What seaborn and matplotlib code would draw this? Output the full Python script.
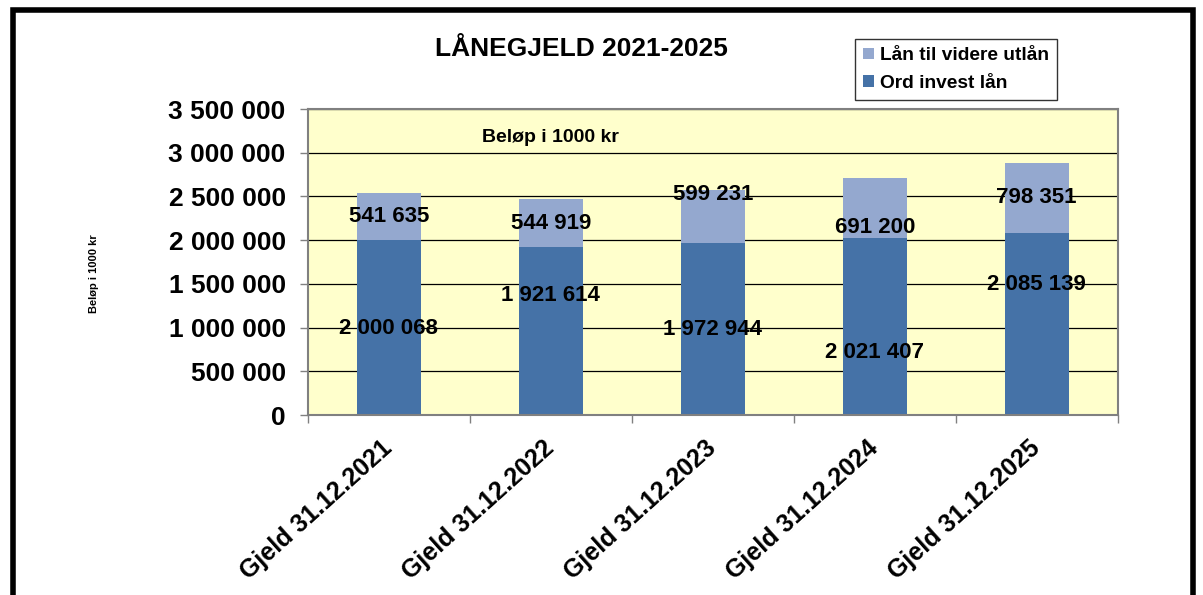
import numpy as np
import pandas as pd
import matplotlib
matplotlib.use("Agg")
import matplotlib.pyplot as plt
import matplotlib.ticker as mticker
import matplotlib.transforms as mtrans
from matplotlib.patches import Rectangle
import seaborn as sns

# ---------------- data ----------------
kategorier = ["Gjeld 31.12.2021", "Gjeld 31.12.2022", "Gjeld 31.12.2023",
              "Gjeld 31.12.2024", "Gjeld 31.12.2025"]
ord_invest = [2000068, 1921614, 1972944, 2021407, 2085139]
videre_utlan = [541635, 544919, 599231, 691200, 798351]
# where the data labels sit (value units)
etikett_y_ord = [985000, 1370000, 975000, 710000, 1490000]
etikett_y_vid = [2265000, 2185000, 2525000, 2140000, 2485000]

fmt = lambda v: f"{int(v):,}".replace(",", " ")

sns.set_theme(style="white")
plt.rcParams["font.family"] = ["Liberation Sans", "DejaVu Sans"]
plt.rcParams["font.weight"] = "bold"
plt.rcParams["text.color"] = "black"
plt.rcParams["xtick.color"] = "black"
plt.rcParams["ytick.color"] = "black"

df = pd.DataFrame({"kat": kategorier,
                   "ord": ord_invest,
                   "tot": np.array(ord_invest) + np.array(videre_utlan)})

fig = plt.figure(figsize=(12.03, 5.95), dpi=100)
ax = fig.add_axes([0.256, 0.3025, 0.673, 0.5143])
ax.set_facecolor("#FFFFCC")

lys = "#94A8CF"
mork = "#4572A7"
sns.barplot(data=df, x="kat", y="tot", color=lys, saturation=1, width=0.395,
            ax=ax, label="Lån til videre utlån")
sns.barplot(data=df, x="kat", y="ord", color=mork, saturation=1, width=0.395,
            ax=ax, label="Ord invest lån")
for p in ax.patches:
    p.set_edgecolor("none")
if ax.get_legend() is not None:
    ax.get_legend().remove()

ax.set_ylim(0, 3500000)
ax.set_xlim(-0.5, len(kategorier) - 0.5)
ax.yaxis.set_major_locator(mticker.MultipleLocator(500000))
ax.yaxis.set_major_formatter(mticker.FuncFormatter(lambda v, p: fmt(v)))
ax.grid(axis="y", color="black", linewidth=0.9)
ax.set_axisbelow(True)
for s in ax.spines.values():
    s.set_color("#808080")
    s.set_linewidth(1.5)

ax.set_xlabel("")
ax.set_ylabel("")
ax.tick_params(axis="y", which="major", left=True, length=6, width=1,
               color="#808080", labelcolor="black", labelsize=19, pad=10)
ax.tick_params(axis="x", which="major", bottom=False, labelcolor="black",
               labelsize=18, pad=9)
ax.set_xticks(np.arange(-0.5, len(kategorier)), minor=True)
ax.tick_params(axis="x", which="minor", bottom=True, length=6, width=1,
               color="#808080")
skift = mtrans.ScaledTranslation(-8 / 100, 0, fig.dpi_scale_trans)
for t in ax.get_xticklabels():
    t.set_rotation(42)
    t.set_ha("right")
    t.set_rotation_mode("anchor")
    t.set_fontweight("bold")
    t.set_transform(t.get_transform() + skift)
for t in ax.get_yticklabels():
    t.set_fontweight("bold")

for i in range(len(kategorier)):
    ax.text(i, etikett_y_ord[i], fmt(ord_invest[i]), ha="center", va="center",
            fontsize=16, fontweight="bold", color="black")
    ax.text(i, etikett_y_vid[i], fmt(videre_utlan[i]), ha="center", va="center",
            fontsize=16, fontweight="bold", color="black")

ax.text(0.299, 3170000, "Beløp i 1000 kr", ha="center", va="center",
        fontsize=14, fontweight="bold", color="black",
        transform=ax.get_yaxis_transform())
fig.text(0.078, 0.54, "Beløp i 1000 kr", rotation=90, ha="center",
         va="center", fontsize=8, fontweight="bold", color="black")
fig.text(0.483, 0.918, "LÅNEGJELD 2021-2025", ha="center", va="center",
         fontsize=19, fontweight="bold", color="black")

handles, labels = ax.get_legend_handles_labels()
leg = fig.legend(handles, labels, loc="upper left",
                 bbox_to_anchor=(0.7105, 0.935), frameon=True, fancybox=False,
                 prop={"weight": "bold", "size": 13.8},
                 handlelength=0.55, handleheight=0.55, handletextpad=0.3,
                 labelspacing=0.55, borderpad=0.45, borderaxespad=0,
                 edgecolor="black")
leg.get_frame().set_linewidth(1)
for t in leg.get_texts():
    t.set_color("black")

# outer frame of the chart object
fig.patches.append(Rectangle((0.0105, -0.1), 0.981, 1.083, transform=fig.transFigure,
                             fill=False, edgecolor="black", linewidth=4))

fig.savefig("out.png", dpi=100, facecolor="white")
